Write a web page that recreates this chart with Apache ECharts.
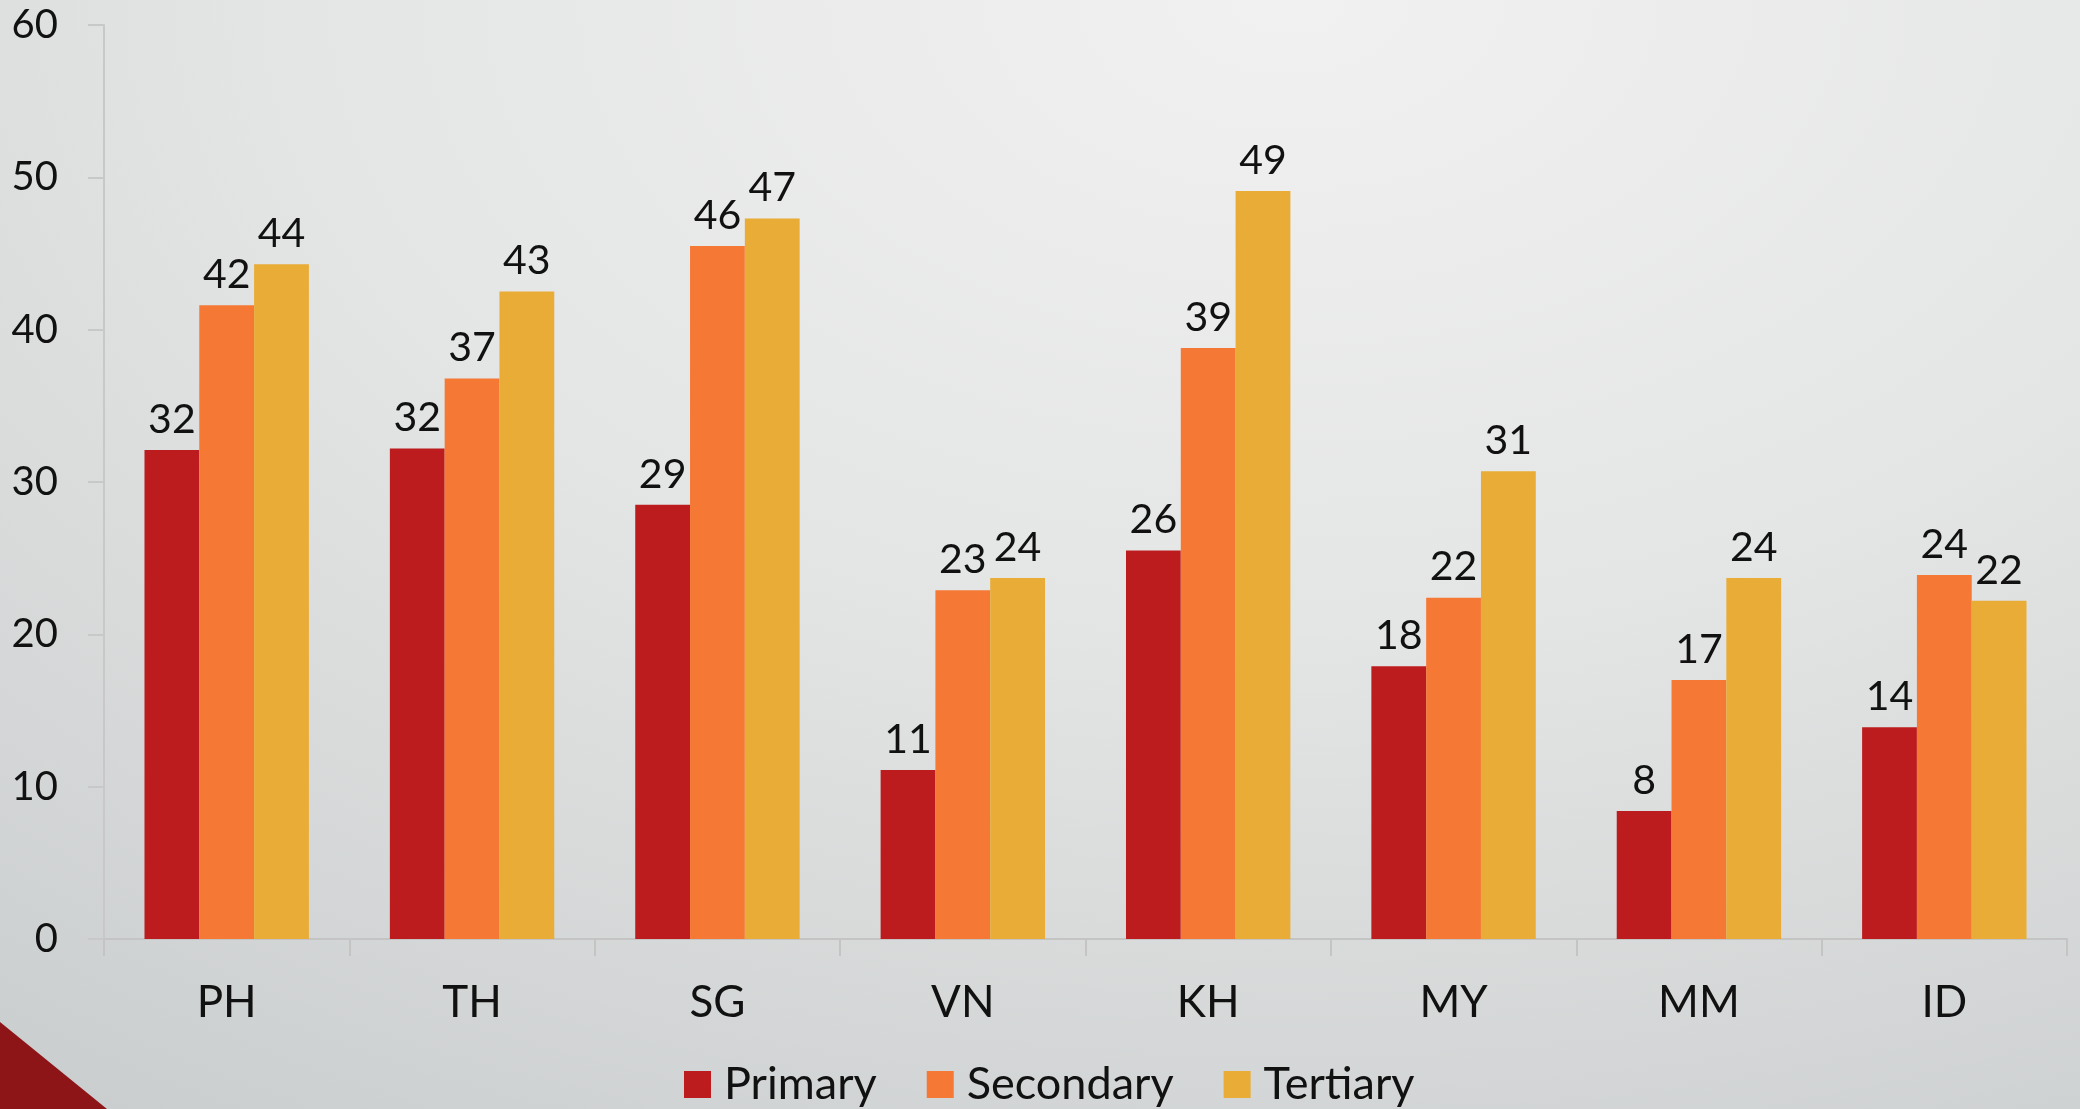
<!DOCTYPE html>
<html>
<head>
<meta charset="utf-8">
<script src="https://cdn.jsdelivr.net/npm/echarts@6/dist/echarts.min.js"></script>
<style>
html,body{margin:0;padding:0;width:2080px;height:1109px;overflow:hidden;}
body{background:radial-gradient(ellipse 120% 140% at 62% 0%, #f1f1f1 0%, #e4e5e5 40%, #c3c7c8 100%);}
#chart{width:2080px;height:1109px;}
</style>
</head>
<body>
<div id="chart"></div>
<script>
const categories = ['PH','TH','SG','VN','KH','MY','MM','ID'];
const primary   = [32.1, 32.2, 28.5, 11.1, 25.5, 17.9, 8.4, 13.9];
const secondary = [41.6, 36.8, 45.5, 22.9, 38.8, 22.4, 17.0, 23.9];
const tertiary  = [44.3, 42.5, 47.3, 23.7, 49.1, 30.7, 23.7, 22.2];
const yTicks = [0,10,20,30,40,50,60];

const FONT = 'Lato';
const chart = echarts.init(document.getElementById('chart'), null, {renderer:'canvas'});
const lbl = {show:true, position:'top', distance:10, color:'#111', fontSize:41, fontFamily:FONT,
  formatter: p => Math.round(p.value)};
function s(name, data, color){
  return {name, type:'bar', data, barGap:'0%', barCategoryGap:'33%',
    itemStyle:{color}, label:lbl, emphasis:{disabled:true}};
}
chart.setOption({
  backgroundColor:'transparent',
  animation:false,
  textStyle:{fontFamily:FONT},
  grid:{left:104, right:13, top:25, bottom:170, containLabel:false},
  legend:{
    data:['Primary','Secondary','Tertiary'],
    left:679, top:1057,
    itemWidth:27, itemHeight:27, itemGap:50,
    icon:'rect',
    textStyle:{fontSize:45, lineHeight:45, color:'#111', fontFamily:FONT, padding:[0,0,0,8]}
  },
  xAxis:{
    type:'category', data:categories,
    axisLine:{show:true, lineStyle:{color:'#c4c4c4', width:2}},
    axisTick:{show:true, length:17, lineStyle:{color:'#c4c4c4', width:2}},
    axisLabel:{color:'#111', fontSize:44, margin:42, fontFamily:FONT}
  },
  yAxis:{
    type:'value', min:0, max:60, interval:10,
    axisLine:{show:true, lineStyle:{color:'#c8c8c8', width:2}},
    axisTick:{show:true, length:16, lineStyle:{color:'#c8c8c8', width:2}},
    splitLine:{show:false},
    axisLabel:{color:'#111', fontSize:40, margin:46, fontFamily:FONT,
      formatter: v => yTicks.includes(v) ? String(v) : ''}
  },
  series:[
    s('Primary', primary, '#bc1c1e'),
    s('Secondary', secondary, '#f57835'),
    s('Tertiary', tertiary, '#e9ac36')
  ],
  graphic:[{
    type:'polygon', silent:true,
    shape:{points:[[0,1022],[107,1109],[0,1109]]},
    style:{fill:'#8d1518'}
  }]
});
</script>
</body>
</html>
